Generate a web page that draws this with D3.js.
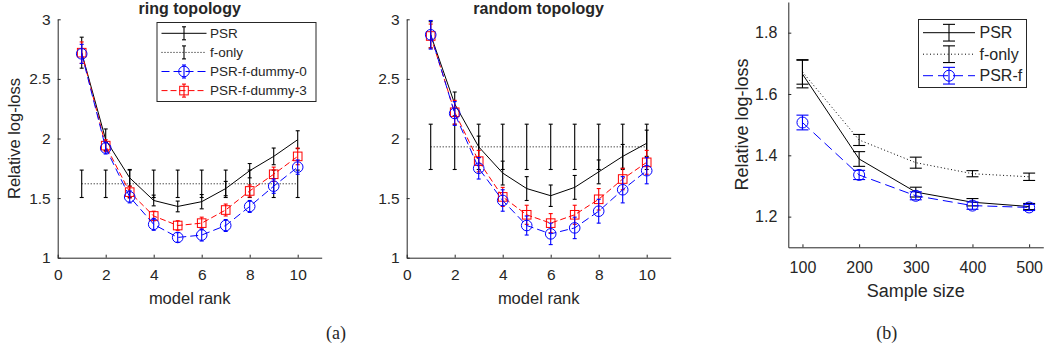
<!DOCTYPE html>
<html>
<head>
<meta charset="utf-8">
<script src="https://cdn.jsdelivr.net/npm/d3@7"></script>
<style>
  body { margin: 0; background: #fff; }
  svg { display: block; }
  text { font-family: "Liberation Sans", Arial, sans-serif; fill: #262626; }
</style>
</head>
<body>
<svg id="chart" width="1046" height="351"></svg>
<script>
// ---- data: (a) model rank panels ----
var rank = [1, 2, 3, 4, 5, 6, 7, 8, 9, 10];

var ringPSR      = [2.72, 1.99, 1.67, 1.48, 1.43, 1.47, 1.58, 1.73, 1.85, 1.99];
var ringPSRErr   = [0.13, 0.09, 0.07, 0.045, 0.045, 0.06, 0.06, 0.06, 0.07, 0.075];
var ringFonly    = [1.62, 1.62, 1.62, 1.62, 1.62, 1.62, 1.62, 1.62, 1.62, 1.62];
var ringFonlyErr = [0.115, 0.115, 0.115, 0.115, 0.115, 0.115, 0.115, 0.115, 0.115, 0.115];
var ringD0       = [2.71, 1.92, 1.51, 1.28, 1.17, 1.19, 1.27, 1.43, 1.60, 1.76];
var ringD0Err    = [0.08, 0.05, 0.05, 0.05, 0.04, 0.05, 0.05, 0.05, 0.06, 0.06];
var ringD3       = [2.72, 1.94, 1.55, 1.35, 1.27, 1.29, 1.40, 1.56, 1.70, 1.85];
var ringD3Err    = [0.09, 0.05, 0.05, 0.04, 0.04, 0.05, 0.05, 0.05, 0.06, 0.07];

var randPSR      = [2.87, 2.29, 1.93, 1.71, 1.58, 1.52, 1.59, 1.72, 1.85, 1.96];
var randPSRErr   = [0.11, 0.10, 0.09, 0.10, 0.10, 0.09, 0.10, 0.10, 0.10, 0.11];
var randFonly    = [1.93, 1.93, 1.93, 1.93, 1.93, 1.93, 1.93, 1.93, 1.93, 1.93];
var randFonlyErr = [0.19, 0.19, 0.19, 0.19, 0.19, 0.19, 0.19, 0.19, 0.19, 0.19];
var randD0       = [2.87, 2.21, 1.75, 1.48, 1.27, 1.20, 1.25, 1.39, 1.57, 1.73];
var randD0Err    = [0.12, 0.10, 0.09, 0.09, 0.08, 0.09, 0.09, 0.10, 0.11, 0.11];
var randD3       = [2.86, 2.22, 1.81, 1.51, 1.36, 1.29, 1.36, 1.49, 1.66, 1.80];
var randD3Err    = [0.10, 0.10, 0.09, 0.08, 0.08, 0.08, 0.08, 0.09, 0.09, 0.10];

var rankTicks = [0, 2, 4, 6, 8, 10];
var lossTicksA = [1, 1.5, 2, 2.5, 3];

// ---- data: (b) sample size panel ----
var sampleSize = [100, 200, 300, 400, 500];
var sPSR      = [1.665, 1.388, 1.280, 1.247, 1.233];
var sPSRErr   = [0.045, 0.024, 0.016, 0.012, 0.010];
var sFonly    = [1.672, 1.450, 1.376, 1.340, 1.330];
var sFonlyErr = [0.040, 0.018, 0.018, 0.010, 0.012];
var sPSRf     = [1.507, 1.336, 1.268, 1.236, 1.230];
var sPSRfErr  = [0.024, 0.015, 0.013, 0.012, 0.010];

var sizeTicks = [100, 200, 300, 400, 500];
var lossTicksB = [1.2, 1.4, 1.6, 1.8];

var svg = d3.select("#chart");
var axisColor = "#262626";

function drawAxes(g, x, y, xt, yt, opt) {
    var xa = g.append("g")
        .attr("transform", "translate(0," + y.range()[0] + ")")
        .call(d3.axisBottom(x).tickValues(xt).tickSizeInner(-3).tickSizeOuter(0)
            .tickPadding(opt.xPad).tickFormat(d3.format("")));
    var ya = g.append("g")
        .attr("transform", "translate(" + x.range()[0] + ",0)")
        .call(d3.axisLeft(y).tickValues(yt).tickSizeInner(-3).tickSizeOuter(0)
            .tickPadding(opt.yPad).tickFormat(d3.format("")));
    [xa, ya].forEach(function (a) {
        a.select(".domain").attr("stroke", axisColor);
        a.selectAll(".tick line").attr("stroke", axisColor);
        a.selectAll("text").style("font-size", opt.tickSize + "px")
            .style("font-family", "Liberation Sans, Arial, sans-serif")
            .attr("fill", axisColor);
    });
}

function drawMarker(g, cx, cy, s) {
    if (s.marker === "circle") {
        g.append("circle").attr("cx", cx).attr("cy", cy).attr("r", s.msize)
            .attr("fill", "none").attr("stroke", s.color).attr("stroke-width", 1);
    } else if (s.marker === "square") {
        g.append("rect").attr("x", cx - s.msize).attr("y", cy - s.msize)
            .attr("width", s.msize * 2).attr("height", s.msize * 2)
            .attr("fill", "none").attr("stroke", s.color).attr("stroke-width", 1);
    }
}

function drawSeries(g, x, y, xs, ys, es, s) {
    var pts = xs.map(function (d, i) { return {x: d, y: ys[i], e: es[i]}; });
    var line = d3.line().x(function (d) { return x(d.x); }).y(function (d) { return y(d.y); });
    g.append("path").datum(pts)
        .attr("d", line)
        .attr("fill", "none")
        .attr("stroke", s.color)
        .attr("stroke-width", 1)
        .attr("stroke-dasharray", s.dash || null);
    var eb = g.append("g").attr("stroke", s.color).attr("stroke-width", 1.1);
    pts.forEach(function (d) {
        var cx = x(d.x), y0 = y(d.y - d.e), y1 = y(d.y + d.e);
        eb.append("line").attr("x1", cx).attr("x2", cx).attr("y1", y0).attr("y2", y1);
        eb.append("line").attr("x1", cx - s.cap).attr("x2", cx + s.cap).attr("y1", y0).attr("y2", y0);
        eb.append("line").attr("x1", cx - s.cap).attr("x2", cx + s.cap).attr("y1", y1).attr("y2", y1);
        drawMarker(g, cx, y(d.y), s);
    });
}

function drawLegend(g, box, items, opt) {
    g.append("rect")
        .attr("x", box.x + 0.5).attr("y", box.y + 0.5)
        .attr("width", box.w).attr("height", box.h)
        .attr("fill", "#fff").attr("stroke", axisColor).attr("stroke-width", 1);
    items.forEach(function (s, i) {
        var cy = box.y + opt.first + i * opt.step;
        var x0 = box.x + opt.lineX0, x1 = box.x + opt.lineX1, cx = (x0 + x1) / 2;
        g.append("line").attr("x1", x0).attr("x2", x1).attr("y1", cy).attr("y2", cy)
            .attr("stroke", s.color).attr("stroke-width", 1)
            .attr("stroke-dasharray", s.dash || null);
        var h = opt.barH / 2;
        var eb = g.append("g").attr("stroke", s.color).attr("stroke-width", 1.1);
        eb.append("line").attr("x1", cx).attr("x2", cx).attr("y1", cy - h).attr("y2", cy + h);
        eb.append("line").attr("x1", cx - s.cap).attr("x2", cx + s.cap).attr("y1", cy - h).attr("y2", cy - h);
        eb.append("line").attr("x1", cx - s.cap).attr("x2", cx + s.cap).attr("y1", cy + h).attr("y2", cy + h);
        drawMarker(g, cx, cy, s);
        g.append("text").attr("x", box.x + opt.textX).attr("y", cy)
            .attr("dy", "0.35em")
            .style("font-size", opt.font + "px")
            .text(s.name);
    });
}

// ---- series styles ----
var styPSR   = {name: "PSR", color: "#000", cap: 2};
var styFonly = {name: "f-only", color: "#000", dash: "1,2", cap: 2};
var styD0    = {name: "PSR-f-dummy-0", color: "#0000ff", dash: "8,4", cap: 2, marker: "circle", msize: 5.3};
var styD3    = {name: "PSR-f-dummy-3", color: "#ff0000", dash: "6,3", cap: 2, marker: "square", msize: 4.3};

function rankPanel(left, title, psr, fonly, d0, d3s, showYLabel, legend) {
    var x = d3.scaleLinear().domain([0, 11]).range([left, left + 264]);
    var y = d3.scaleLinear().domain([1, 3]).range([257.7, 19.3]);
    var g = svg.append("g");
    drawAxes(g, x, y, rankTicks, lossTicksA, {xPad: 11, yPad: 7, tickSize: 15.5});
    drawSeries(g, x, y, rank, fonly[0], fonly[1], styFonly);
    drawSeries(g, x, y, rank, psr[0], psr[1], styPSR);
    drawSeries(g, x, y, rank, d3s[0], d3s[1], styD3);
    drawSeries(g, x, y, rank, d0[0], d0[1], styD0);
    g.append("text").attr("x", left + 132).attr("y", 14)
        .attr("text-anchor", "middle").style("font-size", "16px").style("font-weight", "bold")
        .attr("fill", "#000").text(title);
    g.append("text").attr("x", left + 132).attr("y", 304)
        .attr("text-anchor", "middle").style("font-size", "16.5px").text("model rank");
    if (showYLabel) {
        g.append("text").attr("transform", "translate(" + (left - 43) + ",138.5) rotate(-90)")
            .attr("text-anchor", "middle").attr("dy", "0.35em").style("font-size", "16.5px")
            .text("Relative log-loss");
    }
    if (legend) {
        drawLegend(g, {x: 156.5, y: 22, w: 159, h: 79},
            [styPSR, styFonly, styD0, styD3],
            {first: 11.3, step: 19.1, lineX0: 5, lineX1: 50, textX: 53.5, barH: 13, font: 13.5});
    }
}

rankPanel(57.7, "ring topology", [ringPSR, ringPSRErr], [ringFonly, ringFonlyErr],
    [ringD0, ringD0Err], [ringD3, ringD3Err], true, true);
rankPanel(406.7, "random topology", [randPSR, randPSRErr], [randFonly, randFonlyErr],
    [randD0, randD0Err], [randD3, randD3Err], false, false);

// ---- (b) sample size panel ----
(function () {
    var x = d3.scaleLinear().domain([75, 525]).range([788.3, 1043.3]);
    var y = d3.scaleLinear().domain([1.1, 1.9]).range([247.3, 2]);
    var g = svg.append("g");
    drawAxes(g, x, y, sizeTicks, lossTicksB, {xPad: 14, yPad: 11, tickSize: 16});
    var bPSR   = {name: "PSR", color: "#000", cap: 6};
    var bFonly = {name: "f-only", color: "#000", dash: "1,2.5", cap: 6};
    var bPSRf  = {name: "PSR-f", color: "#0000ff", dash: "10,5", cap: 6, marker: "circle", msize: 5.5};
    drawSeries(g, x, y, sampleSize, sFonly, sFonlyErr, bFonly);
    drawSeries(g, x, y, sampleSize, sPSR, sPSRErr, bPSR);
    drawSeries(g, x, y, sampleSize, sPSRf, sPSRfErr, bPSRf);
    g.append("text").attr("x", 915.8).attr("y", 297)
        .attr("text-anchor", "middle").style("font-size", "18px").text("Sample size");
    g.append("text").attr("transform", "translate(741.7,124.5) rotate(-90)")
        .attr("text-anchor", "middle").attr("dy", "0.35em").style("font-size", "18px")
        .text("Relative log-loss");
    drawLegend(g, {x: 918, y: 19, w: 108, h: 68},
        [bPSR, bFonly, bPSRf],
        {first: 13.7, step: 21.5, lineX0: 5, lineX1: 57, textX: 61.5, barH: 16.7, font: 16});
})();

// ---- sub-figure captions ----
svg.append("text").attr("x", 336).attr("y", 339).attr("text-anchor", "middle")
    .style("font-family", "Liberation Serif, Times New Roman, serif").style("font-size", "18px")
    .attr("fill", "#000").text("(a)");
svg.append("text").attr("x", 886.7).attr("y", 339).attr("text-anchor", "middle")
    .style("font-family", "Liberation Serif, Times New Roman, serif").style("font-size", "18px")
    .attr("fill", "#000").text("(b)");
</script>
</body>
</html>
